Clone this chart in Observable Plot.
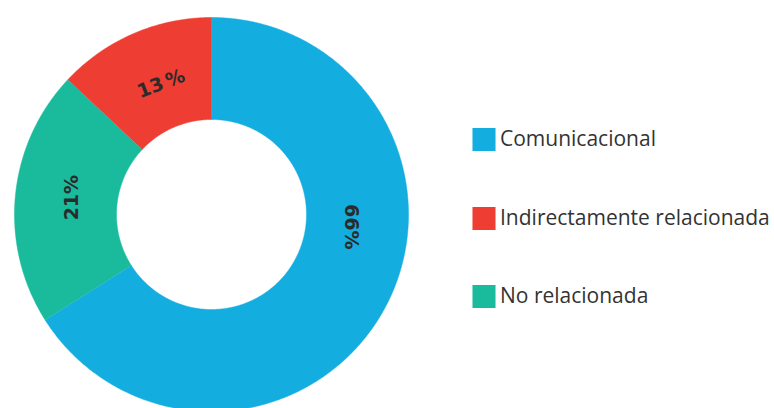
<!DOCTYPE html>
<html>
<head>
<meta charset="utf-8">
<script src="https://cdn.jsdelivr.net/npm/d3@7"></script>
<script src="https://cdn.jsdelivr.net/npm/@observablehq/plot@0.6"></script>
<style>
  html, body { margin: 0; padding: 0; background: #fff; }
  #chart svg { display: block; }
</style>
</head>
<body>
<div id="chart"></div>
<script>
// ---- data ----
const categories = ["Comunicacional", "Indirectamente relacionada", "No relacionada"];
const values = [66, 13, 21];
const labels = ["66%", "13\u2009%", "21%"];
const colors = ["#13ade0", "#ee3d32", "#19bb9c"];
const ringOrder = [0, 2, 1]; // clockwise from 12 o'clock

// ---- layout (pixels) ----
const W = 774, H = 408;
const cx = 211, cy = 214, R = 197;
const innerFrac = 95 / 197;
const labelFrac = [0.4, 0.55, 0.52]; // position of label along each slice
const labelR = (1 + innerFrac) / 2 * 0.96;

const total = d3.sum(values);
let acc = 0;
const slices = ringOrder.map(i => {
  const a0 = acc / total * 2 * Math.PI;
  acc += values[i];
  const a1 = acc / total * 2 * Math.PI;
  return {i, a0, a1};
});

const polyPts = [];
slices.forEach(s => {
  const n = Math.max(8, Math.ceil((s.a1 - s.a0) * 120));
  const pts = [];
  for (let k = 0; k <= n; k++) {
    const a = s.a0 + (s.a1 - s.a0) * k / n;
    pts.push([Math.sin(a), Math.cos(a)]);
  }
  for (let k = n; k >= 0; k--) {
    const a = s.a0 + (s.a1 - s.a0) * k / n;
    pts.push([innerFrac * Math.sin(a), innerFrac * Math.cos(a)]);
  }
  pts.forEach(([x, y]) => polyPts.push({x, y, cat: categories[s.i]}));
});

const labelData = slices.map(s => {
  const a = s.a0 + (s.a1 - s.a0) * labelFrac[s.i];
  let deg = a * 180 / Math.PI;
  if (deg > 180) deg -= 360;
  const rot = Math.abs(deg) > 60 && Math.abs(deg) < 120 ? Math.sign(deg) * 90 : deg;
  return {x: labelR * Math.sin(a), y: labelR * Math.cos(a), text: labels[s.i], rotate: rot};
});

// legend in data units
const legX = (483.5 - cx) / R;
const legRows = [139, 218, 296];
const legendData = categories.map((c, i) => ({cat: c, x: legX, y: (cy - legRows[i]) / R}));

const chart = Plot.plot({
  width: W,
  height: H,
  margin: 0,
  style: {background: "#fff", overflow: "visible"},
  x: {domain: [-cx / R, (W - cx) / R], range: [0, W], axis: null},
  y: {domain: [-(H - cy) / R, cy / R], range: [H, 0], axis: null},
  color: {domain: categories, range: colors},
  marks: [
    Plot.line(polyPts, {x: "x", y: "y", z: "cat", fill: "cat", stroke: "cat", strokeWidth: 0.5, curve: "linear"}),
    ...labelData.map(d => Plot.text([d], {
      x: "x", y: "y", text: "text", rotate: d.rotate,
      fill: "#2b2b2b", fontSize: 19, fontWeight: "bold", fontFamily: "DejaVu Sans"
    })),
    Plot.dot(legendData, {x: "x", y: "y", fill: "cat", symbol: "square", r: 13, stroke: null}),
    Plot.text(legendData, {
      x: "x", y: "y", text: "cat", dx: 16, textAnchor: "start",
      fill: "#333333", fontSize: 21, fontFamily: "Open Sans"
    })
  ]
});
document.getElementById("chart").appendChild(chart);
</script>
</body>
</html>
